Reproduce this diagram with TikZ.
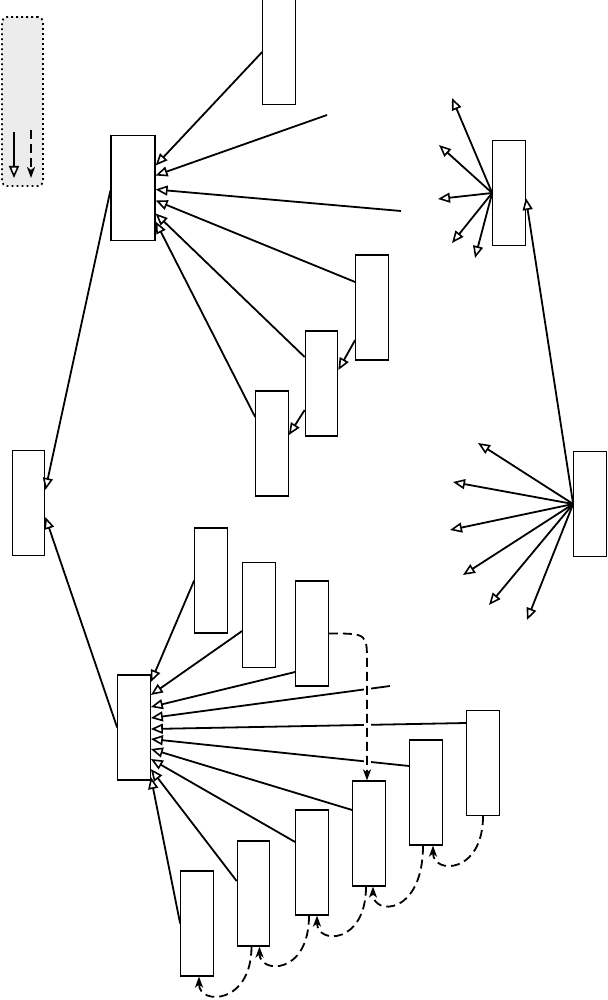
\documentclass[tikz,border=0pt]{standalone}
\usetikzlibrary{arrows.meta}
\begin{document}
\begin{tikzpicture}[x=1pt,y=-1pt,
  box/.style={draw, line width=1.2pt, minimum width=32.5pt, minimum height=105pt, inner sep=0pt, fill=white},
  legendbox/.style={draw, line width=1.8pt, dash pattern=on 1.8pt off 3.2pt, rounded corners=5pt, fill=gray!15, minimum width=41pt, minimum height=169pt, inner sep=0pt},
  gen/.style={line width=1.8pt, -{Triangle[open, fill=white, length=12pt, width=10pt, line width=1.6pt]}},
  dep/.style={line width=1.8pt, dash pattern=on 9pt off 5pt, -{Stealth[length=11pt, width=8pt, inset=3pt]}},
  halo/.style={draw=white, line width=7pt},
]
\useasboundingbox (0,0) rectangle (607,1000);

% legend
\node[legendbox] (leg) at (22.5,101.5) {};
\coordinate (l1s) at (14,132); \coordinate (l1e) at (14,178);
\coordinate (l2s) at (31,130); \coordinate (l2e) at (31,178);
\draw[gen] (l1s) -- (l1e);
\draw[dep] (l2s) -- (l2e);

% boxes
\node[box] (A) at (279,52) {};
\node[box, minimum width=44pt] (B) at (133,188) {};
\node[box] (C) at (509,193) {};
\node[box] (D) at (372,307.5) {};
\node[box] (E) at (321.5,383.5) {};
\node[box] (F) at (272,443.5) {};
\node[box] (G) at (28.5,503) {};
\node[box] (H) at (590,504) {};
\node[box] (I1) at (211,580.5) {};
\node[box] (I2) at (259,615) {};
\node[box] (I3) at (312,633.5) {};
\node[box] (J) at (134,727.5) {};
\node[box] (K1) at (483,763) {};
\node[box] (K2) at (426,792.5) {};
\node[box] (K3) at (369,833.5) {};
\node[box] (K4) at (312,862.5) {};
\node[box] (K5) at (253.5,893.5) {};
\node[box] (K6) at (197,923.5) {};

% free ends
\coordinate (fb1) at (327,115);
\coordinate (fb2) at (401,211);
\coordinate (fj) at (390,686);
\coordinate (c1) at (452,98);
\coordinate (c2) at (439,145);
\coordinate (c3) at (438,199);
\coordinate (c4) at (452,243);
\coordinate (c5) at (475,258);
\coordinate (h1) at (478,443);
\coordinate (h2) at (453,482);
\coordinate (h3) at (450,530);
\coordinate (h4) at (463,575);
\coordinate (h5) at (489,605);
\coordinate (h6) at (527,620);
\coordinate (bend) at (367,668);

% into B
\draw[gen] (A.west) -- ([yshift=22.5pt]B.east);
\draw[gen] (fb1) -- ([yshift=12.5pt]B.east);
\draw[gen] (fb2) -- ([yshift=-1.5pt]B.east);
\draw[gen] ([yshift=25.5pt]D.west) -- ([yshift=-12.5pt]B.east);
\draw[gen] ([yshift=26.5pt]E.west) -- ([yshift=-25.5pt]B.east);
\draw[gen] ([yshift=26.5pt]F.west) -- ([yshift=-33.5pt]B.east);
\draw[gen] ([yshift=-32.5pt]D.west) -- ([yshift=13.5pt]E.east);
\draw[gen] ([yshift=-26.5pt]E.west) -- ([yshift=8.5pt]F.east);

% into G
\draw[gen] ([yshift=-2.5pt]B.west) -- ([yshift=13pt]G.east);
\draw[gen] (J.west) -- ([yshift=-14pt]G.east);

% C and H
\foreach \t in {c1,c2,c3,c4,c5} \draw[gen] (C.west) -- (\t);
\foreach \t in {h1,h2,h3,h4,h5,h6} \draw[gen] (H.west) -- (\t);
\draw[gen] (H.west) -- ([yshift=-5pt]C.east);

% into J
\draw[gen] (I1.west) -- ([yshift=45.5pt]J.east);
\draw[gen] ([yshift=-16pt]I2.west) -- ([yshift=32.5pt]J.east);
\draw[gen] ([yshift=-38.5pt]I3.west) -- ([yshift=20.5pt]J.east);
\draw[gen] (fj) -- ([yshift=9.5pt]J.east);
\draw[gen] ([yshift=40pt]K1.west) -- ([yshift=-1.5pt]J.east);
\draw[gen] ([yshift=26.5pt]K2.west) -- ([yshift=-11.5pt]J.east);
\draw[gen] ([yshift=23.5pt]K3.west) -- ([yshift=-21.5pt]J.east);
\draw[gen] ([yshift=20.5pt]K4.west) -- ([yshift=-31.5pt]J.east);
\draw[gen] ([yshift=12.5pt]K5.west) -- ([yshift=-41.5pt]J.east);
\draw[gen] (K6.west) -- ([yshift=-49.5pt]J.east);

% dashed dependencies
\draw[halo, shorten >=4pt] (bend) -- ([xshift=-2pt]K3.north);
\draw[dep] (I3.east) .. controls +(40,0) and +(0,-35) .. (bend) -- ([xshift=-2pt]K3.north);
\draw[dep] (K1.south) .. controls +(0,58) and +(0,29) .. ([xshift=7pt]K2.south);
\draw[dep] ([xshift=-3pt]K2.south) .. controls +(0,70) and +(0,29) .. ([xshift=4pt]K3.south);
\draw[dep] ([xshift=-3pt]K3.south) .. controls +(0,58) and +(0,29) .. ([xshift=5pt]K4.south);
\draw[dep] ([xshift=-3pt]K4.south) .. controls +(0,60) and +(0,27) .. ([xshift=6pt]K5.south);
\draw[dep] ([xshift=-2pt]K5.south) .. controls +(0,58) and +(0,29) .. ([xshift=2pt]K6.south);
\end{tikzpicture}
\end{document}
